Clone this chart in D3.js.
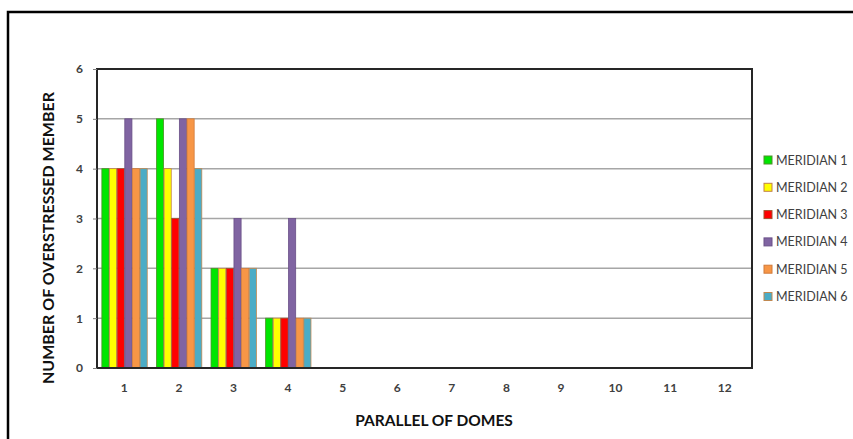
<!DOCTYPE html>
<html>
<head>
<meta charset="utf-8">
<script src="https://cdn.jsdelivr.net/npm/d3@7"></script>
<style>
  html, body { margin: 0; padding: 0; background: #fff; }
  svg { display: block; }
  text { font-family: Lato, "Open Sans", "Liberation Sans", sans-serif; }
</style>
</head>
<body>
<svg id="chart" width="853" height="439"></svg>
<script>
// Parallels of the dome (x categories)
const parallels = ["1", "2", "3", "4", "5", "6", "7", "8", "9", "10", "11", "12"];

// Number of overstressed members per meridian, one value per parallel
const meridian1 = [4, 5, 2, 1, 0, 0, 0, 0, 0, 0, 0, 0];
const meridian2 = [4, 4, 2, 1, 0, 0, 0, 0, 0, 0, 0, 0];
const meridian3 = [4, 3, 2, 1, 0, 0, 0, 0, 0, 0, 0, 0];
const meridian4 = [5, 5, 3, 3, 0, 0, 0, 0, 0, 0, 0, 0];
const meridian5 = [4, 5, 2, 1, 0, 0, 0, 0, 0, 0, 0, 0];
const meridian6 = [4, 4, 2, 1, 0, 0, 0, 0, 0, 0, 0, 0];

const seriesNames = ["MERIDIAN 1", "MERIDIAN 2", "MERIDIAN 3", "MERIDIAN 4", "MERIDIAN 5", "MERIDIAN 6"];
const yTicks = [0, 1, 2, 3, 4, 5, 6];

const series = [meridian1, meridian2, meridian3, meridian4, meridian5, meridian6]
  .map((values, i) => ({ name: seriesNames[i], values }));

const fills   = ["#00e600", "#ffff00", "#ff0000", "#8064a2", "#f79646", "#4bacc6"];
const strokes = ["#4f8f2a", "#c0804a", "#a0522d", "#6a5088", "#d07a3a", "#c08850"];

const svg = d3.select("#chart");

// outer chart frame
svg.append("path")
  .attr("d", "M8,440 L8,12 L860,12")
  .attr("fill", "none")
  .attr("stroke", "#000")
  .attr("stroke-width", 2.5);

const plot = { left: 97, top: 69, right: 752, bottom: 368 };

const x = d3.scaleBand()
  .domain(parallels)
  .range([plot.left, plot.right])
  .paddingInner(0)
  .paddingOuter(0);

const y = d3.scaleLinear()
  .domain([0, 6])
  .range([plot.bottom, plot.top]);

const groupW = x.bandwidth() * 0.84;
const xs = d3.scaleBand()
  .domain(seriesNames)
  .range([0, groupW]);

// gridlines
svg.append("g")
  .selectAll("line")
  .data(yTicks.filter(t => t > 0 && t < 6))
  .join("line")
  .attr("x1", plot.left)
  .attr("x2", plot.right)
  .attr("y1", d => y(d))
  .attr("y2", d => y(d))
  .attr("stroke", "#a6a6a6")
  .attr("stroke-width", 1.5);

// bars
const groups = svg.append("g")
  .selectAll("g")
  .data(series)
  .join("g")
  .attr("fill", (d, i) => fills[i])
  .attr("stroke", (d, i) => strokes[i]);

groups.selectAll("rect")
  .data(d => d.values.map((v, j) => ({ name: d.name, cat: parallels[j], v })).filter(e => e.v > 0))
  .join("rect")
  .attr("x", d => x(d.cat) + (x.bandwidth() - groupW) / 2 + xs(d.name) + 0.5)
  .attr("width", xs.bandwidth() - 0.5)
  .attr("y", d => y(d.v))
  .attr("height", d => y(0) - y(d.v))
  .attr("stroke-width", 0.8);

// plot area border
svg.append("rect")
  .attr("x", plot.left)
  .attr("y", plot.top)
  .attr("width", plot.right - plot.left)
  .attr("height", plot.bottom - plot.top)
  .attr("fill", "none")
  .attr("stroke", "#262626")
  .attr("stroke-width", 2);

// y axis
const yAxis = svg.append("g")
  .attr("transform", `translate(${plot.left},0)`)
  .call(d3.axisLeft(y).tickValues(yTicks).tickFormat(d3.format("d")).tickSize(4).tickPadding(10));
yAxis.select(".domain").remove();
yAxis.selectAll("line").attr("stroke", "#7f7f7f");
yAxis.selectAll("text")
  .attr("font-size", 12)
  .attr("font-weight", "bold")
  .attr("fill", "#404040");

// x axis
const xAxis = svg.append("g")
  .attr("transform", `translate(0,${plot.bottom})`)
  .call(d3.axisBottom(x).tickSize(0).tickPadding(15));
xAxis.select(".domain").remove();
xAxis.selectAll("text")
  .attr("font-size", 12)
  .attr("font-weight", "bold")
  .attr("fill", "#404040");

// axis titles
svg.append("text")
  .attr("transform", "translate(54,238) rotate(-90)")
  .attr("text-anchor", "middle")
  .attr("font-size", 16)
  .attr("font-weight", "bold")
  .attr("fill", "#111")
  .text("NUMBER OF OVERSTRESSED MEMBER");

svg.append("text")
  .attr("x", 434)
  .attr("y", 426)
  .attr("text-anchor", "middle")
  .attr("font-size", 15.5)
  .attr("font-weight", "bold")
  .attr("fill", "#111")
  .text("PARALLEL OF DOMES");

// legend
const legend = svg.append("g")
  .selectAll("g")
  .data(seriesNames)
  .join("g")
  .attr("transform", (d, i) => `translate(764,${160 + i * 27.3})`);

legend.append("rect")
  .attr("x", 0)
  .attr("y", -4)
  .attr("width", 8)
  .attr("height", 8)
  .attr("fill", (d, i) => fills[i])
  .attr("stroke", (d, i) => strokes[i])
  .attr("stroke-width", 1);

legend.append("text")
  .attr("x", 12)
  .attr("y", 4.5)
  .attr("font-size", 12.5)
  .attr("fill", "#404040")
  .text(d => d);
</script>
</body>
</html>
